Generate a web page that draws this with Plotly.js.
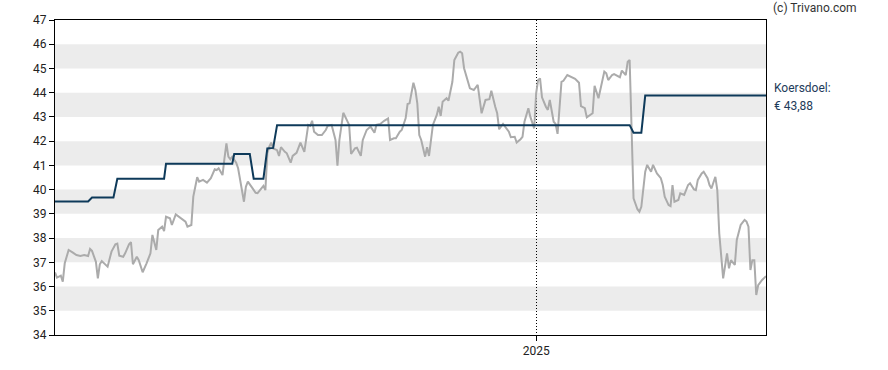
<!DOCTYPE html>
<html>
<head>
<meta charset="utf-8">
<script src="https://cdn.plot.ly/plotly-3.0.1.min.js"></script>
<style>
html,body{margin:0;padding:0;background:#fff;}
#chart{width:888px;height:370px;}
</style>
</head>
<body>
<div id="chart"></div>
<script>
// Price (koers) series
const priceDates = [
"2024-04-29","2024-04-30","2024-05-02","2024-05-03","2024-05-04","2024-05-06","2024-05-08","2024-05-10","2024-05-12","2024-05-14",
"2024-05-16","2024-05-17","2024-05-18","2024-05-20","2024-05-21","2024-05-22","2024-05-23","2024-05-25","2024-05-26","2024-05-28",
"2024-05-30","2024-05-31","2024-06-01","2024-06-03","2024-06-04","2024-06-06","2024-06-07","2024-06-08","2024-06-10","2024-06-11",
"2024-06-13","2024-06-15","2024-06-17","2024-06-18","2024-06-20","2024-06-21","2024-06-23","2024-06-24","2024-06-25","2024-06-27",
"2024-06-28","2024-06-30","2024-07-03","2024-07-05","2024-07-06","2024-07-08","2024-07-09","2024-07-11","2024-07-12","2024-07-14",
"2024-07-16","2024-07-18","2024-07-20","2024-07-21","2024-07-22","2024-07-24","2024-07-25","2024-07-26","2024-07-27","2024-07-28",
"2024-07-29","2024-07-31","2024-08-01","2024-08-03","2024-08-04","2024-08-05","2024-08-06","2024-08-08","2024-08-10","2024-08-11",
"2024-08-13","2024-08-14","2024-08-15","2024-08-16","2024-08-17","2024-08-18","2024-08-19","2024-08-21","2024-08-22","2024-08-23",
"2024-08-25","2024-08-26","2024-08-28","2024-08-29","2024-08-31","2024-09-02","2024-09-04","2024-09-06","2024-09-07","2024-09-08",
"2024-09-09","2024-09-11","2024-09-13","2024-09-15","2024-09-16","2024-09-18","2024-09-20","2024-09-21","2024-09-22","2024-09-24",
"2024-09-25","2024-09-27","2024-09-28","2024-09-30","2024-10-01","2024-10-03","2024-10-04","2024-10-06","2024-10-08","2024-10-10",
"2024-10-11","2024-10-13","2024-10-15","2024-10-17","2024-10-18","2024-10-20","2024-10-21","2024-10-23","2024-10-24","2024-10-26",
"2024-10-27","2024-10-28","2024-10-30","2024-10-31","2024-11-01","2024-11-02","2024-11-03","2024-11-05","2024-11-06","2024-11-07",
"2024-11-09","2024-11-11","2024-11-12","2024-11-13","2024-11-14","2024-11-16","2024-11-17","2024-11-19","2024-11-20","2024-11-22",
"2024-11-23","2024-11-24","2024-11-25","2024-11-27","2024-11-28","2024-11-30","2024-12-01","2024-12-02","2024-12-04","2024-12-05",
"2024-12-06","2024-12-08","2024-12-09","2024-12-11","2024-12-12","2024-12-13","2024-12-15","2024-12-18","2024-12-19","2024-12-21",
"2024-12-22","2024-12-24","2024-12-25","2024-12-26","2024-12-28","2024-12-29","2024-12-31","2025-01-01","2025-01-02","2025-01-03",
"2025-01-04","2025-01-06","2025-01-07","2025-01-08","2025-01-10","2025-01-11","2025-01-12","2025-01-14","2025-01-15","2025-01-17",
"2025-01-19","2025-01-21","2025-01-23","2025-01-24","2025-01-26","2025-01-27","2025-01-30","2025-01-31","2025-02-02","2025-02-05",
"2025-02-06","2025-02-07","2025-02-09","2025-02-10","2025-02-13","2025-02-14","2025-02-16","2025-02-17","2025-02-18","2025-02-19",
"2025-02-20","2025-02-22","2025-02-23","2025-02-24","2025-02-26","2025-02-27","2025-03-01","2025-03-02","2025-03-04","2025-03-06",
"2025-03-07","2025-03-08","2025-03-10","2025-03-11","2025-03-12","2025-03-13","2025-03-15","2025-03-16","2025-03-18","2025-03-20",
"2025-03-21","2025-03-23","2025-03-24","2025-03-25","2025-03-27","2025-03-28","2025-03-30","2025-03-31","2025-04-01","2025-04-03",
"2025-04-04","2025-04-05","2025-04-07","2025-04-09","2025-04-10","2025-04-11","2025-04-13","2025-04-14","2025-04-16","2025-04-18",
"2025-04-19","2025-04-20","2025-04-21","2025-04-22","2025-04-23","2025-04-24","2025-04-25","2025-04-27","2025-04-29"
];
const priceValues = [
36.58,36.37,36.45,36.20,36.96,37.51,37.41,37.30,37.26,37.30,
37.26,37.55,37.47,37.02,36.34,36.92,37.05,36.89,36.82,37.44,
37.74,37.77,37.27,37.23,37.37,37.74,37.83,36.92,37.23,37.09,
36.59,36.96,37.37,38.13,37.51,38.33,38.47,38.29,38.88,38.82,
38.54,38.98,38.82,38.68,38.47,38.54,39.71,40.51,40.33,40.40,
40.29,40.47,40.84,40.81,40.88,40.60,41.29,41.91,41.36,41.25,
41.36,41.11,40.88,39.98,39.50,40.12,40.33,40.10,39.87,39.85,
40.05,40.15,39.98,41.50,41.77,41.94,41.70,41.63,41.39,41.75,
41.56,41.50,41.11,41.39,41.52,41.94,41.56,42.67,42.63,42.84,
42.39,42.25,42.25,42.46,42.63,42.67,42.05,40.99,42.05,43.17,
43.01,42.67,41.47,41.70,41.73,41.39,42.05,42.46,42.60,42.35,
42.67,42.71,42.84,42.94,42.05,42.12,42.12,42.39,42.46,42.94,
43.53,43.56,44.41,44.11,43.56,42.25,42.05,41.36,41.75,41.39,
42.67,43.08,43.42,43.04,43.63,43.77,43.67,44.45,45.35,45.65,
45.69,45.63,45.01,44.39,44.18,44.11,44.22,44.32,43.15,43.40,
43.70,43.73,44.08,43.42,43.15,42.49,42.71,42.39,42.16,42.18,
41.94,42.08,42.18,42.80,43.36,43.01,42.53,43.97,44.52,44.59,
43.81,43.42,43.29,43.70,42.80,42.71,42.30,44.45,44.49,44.73,
44.64,44.57,44.41,43.45,43.36,42.98,43.15,44.28,43.77,44.87,
44.80,44.52,44.73,44.77,44.64,44.91,44.73,45.28,45.35,42.18,
39.64,39.19,39.09,39.29,40.74,41.02,40.74,41.02,40.67,40.47,
40.19,39.71,39.36,39.32,40.19,39.50,39.57,39.85,39.78,40.19,
40.26,40.01,39.98,40.40,40.67,40.74,40.47,40.19,40.05,40.53,
39.98,38.20,36.34,37.37,36.75,37.09,36.89,37.92,38.54,38.75,
38.68,38.47,36.68,37.09,37.09,35.65,36.06,36.27,36.43
];

// Koersdoel (price target) series
const targetDates = [
"2024-04-29","2024-05-16","2024-05-18","2024-05-29","2024-05-31","2024-06-24","2024-06-25",
"2024-07-29","2024-07-30","2024-08-07","2024-08-09","2024-08-14","2024-08-16","2024-08-19",
"2024-08-21","2025-02-18","2025-02-20","2025-02-24","2025-02-26","2025-04-29"
];
const targetValues = [
39.51,39.51,39.67,39.67,40.45,40.45,41.07,
41.07,41.47,41.47,40.45,40.45,41.70,41.72,
42.66,42.66,42.35,42.35,43.88,43.88
];

const xRange = ["2024-04-29","2025-04-29"];
const yRange = [34, 47];
const xTickVals = ["2025-01-01"];
const xTickText = ["2025"];
const bandLows = [35, 37, 39, 41, 43, 45];
const copyrightText = "(c) Trivano.com";
const targetLabel = "Koersdoel:";

const lastTarget = targetValues[targetValues.length - 1];
const targetValueText = "€ " + lastTarget.toFixed(2).replace(".", ",");

const shapes = bandLows.map(lo => ({
  type: "rect", xref: "paper", yref: "y", x0: 0, x1: 1, y0: lo, y1: lo + 1,
  fillcolor: "#ececec", line: {width: 0}, layer: "below"
}));

const traces = [
  {x: priceDates, y: priceValues, type: "scatter", mode: "lines",
   line: {color: "#ababab", width: 2}, hoverinfo: "skip"},
  {x: targetDates, y: targetValues, type: "scatter", mode: "lines",
   line: {color: "#0e3a5a", width: 2}, hoverinfo: "skip"}
];

const layout = {
  width: 888, height: 370,
  margin: {l: 55, r: 122, t: 20, b: 35, pad: 0},
  paper_bgcolor: "#ffffff", plot_bgcolor: "#ffffff",
  showlegend: false,
  font: {family: "Roboto, Arial, sans-serif", size: 12, color: "#222"},
  xaxis: {
    type: "date", range: xRange, tickvals: xTickVals, ticktext: xTickText,
    showgrid: true, gridcolor: "#000", griddash: "1px,2px", gridwidth: 1,
    showline: true, linecolor: "#000", linewidth: 1, mirror: true,
    ticks: "outside", ticklen: 5, tickcolor: "#000", zeroline: false,
    tickfont: {size: 12, color: "#222"}, fixedrange: true
  },
  yaxis: {
    range: yRange, dtick: 1, tick0: 34, showgrid: false, zeroline: false,
    showline: true, linecolor: "#000", linewidth: 1, mirror: true,
    ticks: "outside", ticklen: 5, tickcolor: "#000",
    tickfont: {size: 12, color: "#222"}, fixedrange: true
  },
  shapes: shapes,
  annotations: [
    {xref: "paper", yref: "paper", x: 1, y: 1, xanchor: "left", yanchor: "middle",
     xshift: 5, yshift: 12, text: copyrightText, showarrow: false,
     font: {size: 12, color: "#333"}},
    {xref: "paper", yref: "y", x: 1, y: lastTarget, xanchor: "left", yanchor: "middle",
     xshift: 6, yshift: 8, text: targetLabel, showarrow: false, align: "left",
     font: {size: 12, color: "#1e3b5a"}},
    {xref: "paper", yref: "y", x: 1, y: lastTarget, xanchor: "left", yanchor: "middle",
     xshift: 6, yshift: -10, text: targetValueText, showarrow: false, align: "left",
     font: {size: 12, color: "#1e3b5a"}}
  ],
  hovermode: false
};

Plotly.newPlot("chart", traces, layout, {displayModeBar: false, staticPlot: true});
</script>
</body>
</html>
